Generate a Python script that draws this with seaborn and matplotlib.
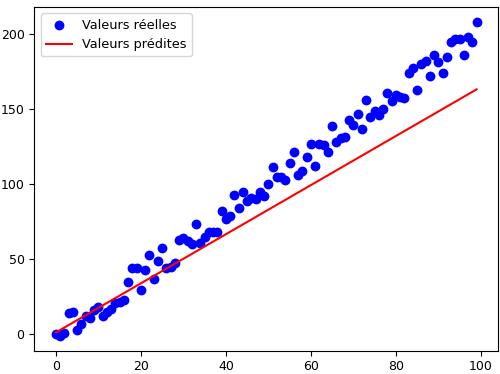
import matplotlib
matplotlib.use("Agg")
import matplotlib.pyplot as plt
import seaborn as sns
import numpy as np
import pandas as pd

x_vals = list(range(100))
y_reel = [0, -1, 1, 14.4, 15, 3, 6.7, 12, 11, 16.5,
          18.4, 12, 14.7, 16.7, 21, 21.8, 23, 34.7, 44, 44,
          29.8, 42.7, 53, 37, 49, 57.5, 44, 44.7, 47.3, 63,
          64, 62, 60, 73.8, 61, 65, 68, 68, 68, 82,
          77, 78.7, 93, 84, 95, 89, 90.7, 90, 95.1, 92.4,
          100.2, 111.3, 105.1, 104.7, 103, 114, 121.8, 106.4, 108.7, 118.4,
          126.7, 112.2, 126.9, 126.2, 121.8, 139.1, 128, 130.7, 131.8, 142.9,
          139.6, 146.7, 136.7, 156.2, 144.7, 149.1, 146.2, 150, 161.1, 155.8,
          159.6, 158, 157.8, 174, 177.6, 162.9, 180.2, 182, 172.4, 186,
          181.8, 174, 184.9, 195.1, 196.9, 196.9, 186, 198, 194.7, 208]
pred_x = [0, 99]
pred_y = [1.3, 163.3]

df = pd.DataFrame({"x": x_vals, "y": y_reel})
dfp = pd.DataFrame({"x": pred_x, "y": pred_y})

plt.rcParams['font.family'] = ['DejaVu Sans']
fig = plt.figure(figsize=(5, 3.74), dpi=100)
ax = fig.add_axes([0.0686, 0.0623, 0.928, 0.919])

sns.scatterplot(data=df, x="x", y="y", color="blue", s=50, linewidth=0,
                ax=ax, label="Valeurs réelles")
sns.lineplot(data=dfp, x="x", y="y", color="red", linewidth=1.5,
             ax=ax, label="Valeurs prédites")

ax.set_xlabel("")
ax.set_ylabel("")
ax.set_xticks([0, 20, 40, 60, 80, 100])
ax.set_yticks([0, 50, 100, 150, 200])
ax.tick_params(labelsize=9)
ax.set_xlim(-5.1, 104.1)
ax.set_ylim(-10.9, 218.2)
ax.legend(loc="upper left", fontsize=9.3)

fig.savefig("out.png", dpi=100)
